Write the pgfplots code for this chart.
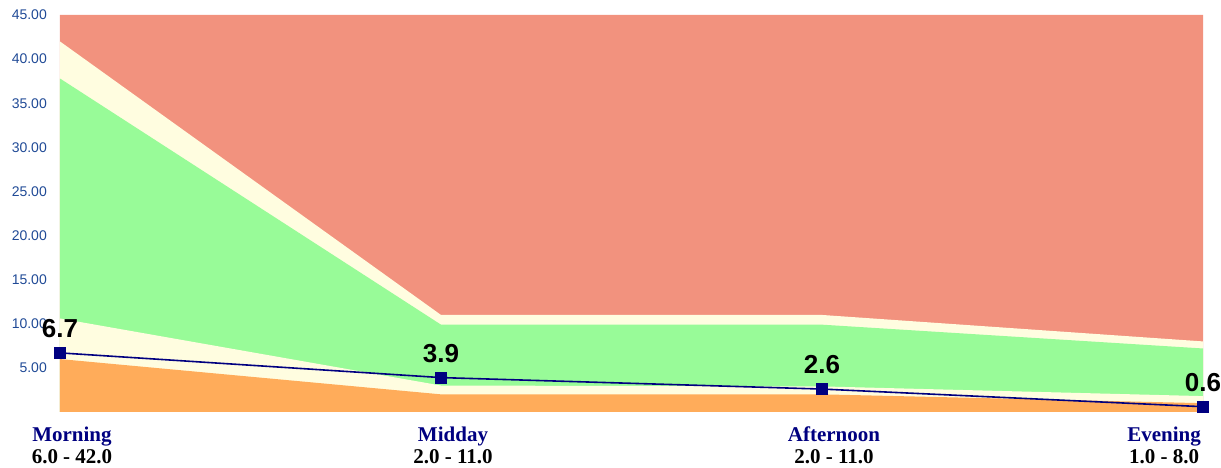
\documentclass[border=0pt]{standalone}
\usepackage{pgfplots}
\pgfplotsset{compat=1.18}
\usepackage{fontspec}
\setmainfont{Liberation Serif}
\newfontfamily\arial{Liberation Sans}
\definecolor{csalmon}{RGB}{242,146,126}
\definecolor{cyellow}{RGB}{255,253,224}
\definecolor{cgreen}{RGB}{152,251,152}
\definecolor{corange}{RGB}{255,172,90}
\definecolor{cnavy}{RGB}{0,0,128}
\definecolor{ctick}{RGB}{32,74,150}
\begin{document}
\begin{tikzpicture}
\begin{axis}[
  scale only axis, width=1143pt, height=397pt,
  xmin=0, xmax=3, ymin=0, ymax=45,
  axis x line*=bottom, axis y line*=left,
  x axis line style={draw=gray!60, line width=1pt, -},
  y axis line style={draw=none},
  major tick length=0pt,
  ytick={5,10,15,20,25,30,35,40,45},
  yticklabel={\pgfmathprintnumber[fixed,fixed zerofill,precision=2,assume math mode=true]{\tick}},
  yticklabel style={font=\arial\fontsize{14}{16}\selectfont, text=ctick, inner sep=0pt, xshift=-13pt},
  xtick={0,1,2},
  xticklabels={{\textcolor{cnavy}{Morning}\\6.0 - 42.0},{\textcolor{cnavy}{Midday}\\2.0 - 11.0},{\textcolor{cnavy}{Afternoon}\\2.0 - 11.0}},
  xticklabel style={font=\bfseries\fontsize{21}{22}\selectfont, align=center, inner sep=0pt, yshift=-15pt, xshift=12pt, anchor=north},
  extra x ticks={3},
  extra x tick labels={{\textcolor{cnavy}{Evening}\\1.0 - 8.0}},
  extra x tick style={xticklabel style={anchor=north east, xshift=-14pt}},
  clip=false,
]
\addplot[fill=csalmon, draw=none] coordinates {(0,45)(1,45)(2,45)(3,45)} \closedcycle;
\addplot[fill=cyellow, draw=none] coordinates {(0,42)(1,11)(2,11)(3,8)} \closedcycle;
\addplot[fill=cgreen, draw=none] coordinates {(0,37.8)(1,9.9)(2,9.9)(3,7.2)} \closedcycle;
\addplot[fill=cyellow, draw=none] coordinates {(0,10.6)(1,3.0)(2,2.9)(3,1.8)} \closedcycle;
\addplot[fill=corange, draw=none] coordinates {(0,6)(1,2)(2,2)(3,1)} \closedcycle;
\addplot[cnavy, line width=1.6pt, mark=square*, mark size=5.5pt, mark options={fill=cnavy, draw=cnavy, line width=0pt},
  nodes near coords={\pgfmathprintnumber[fixed,precision=1,assume math mode=true]{\pgfplotspointmeta}},
  every node near coord/.append style={font=\arial\bfseries\fontsize{26}{28}\selectfont, text=black, anchor=south, inner sep=0pt, yshift=15pt}]
  coordinates {(0,6.7)(1,3.9)(2,2.6)(3,0.6)};
\end{axis}
\pgfresetboundingbox
\path[use as bounding box] (current axis.south west) ++(-60pt,-56pt) rectangle ++(1221pt,468pt);
\end{tikzpicture}
\end{document}
